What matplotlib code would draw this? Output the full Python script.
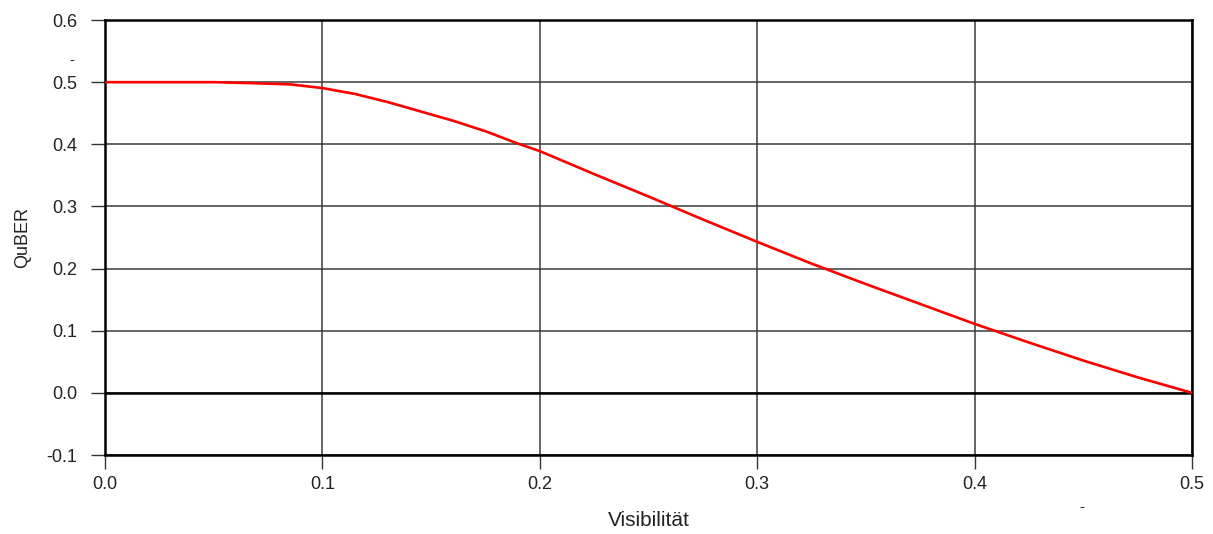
import matplotlib.pyplot as plt

plt.rcParams['font.family'] = ['Liberation Sans', 'DejaVu Sans']

# QuBER over visibility
visibility = [0.0, 0.025, 0.05, 0.0667, 0.085, 0.1, 0.115, 0.13, 0.145, 0.16,
              0.175, 0.19, 0.2, 0.225, 0.25, 0.275, 0.3, 0.325, 0.35, 0.375,
              0.4, 0.425, 0.45, 0.475, 0.5]
quber = [0.500, 0.500, 0.500, 0.4985, 0.4965, 0.4905, 0.481, 0.468, 0.453, 0.438,
         0.421, 0.401, 0.389, 0.352, 0.316, 0.279, 0.243, 0.208, 0.175, 0.143,
         0.111, 0.081, 0.052, 0.025, 0.0]

x_ticks = [0.0, 0.1, 0.2, 0.3, 0.4, 0.5]
y_ticks = [-0.1, 0.0, 0.1, 0.2, 0.3, 0.4, 0.5, 0.6]

fig = plt.figure(figsize=(12.13, 5.34), dpi=100)
ax = fig.add_axes([0.0866, 0.1479, 0.8961, 0.8146])

ax.set_xlim(0, 0.5)
ax.set_ylim(-0.1, 0.6)
ax.set_xticks(x_ticks)
ax.set_yticks(y_ticks)
ax.set_xticklabels([f"{v:.1f}" for v in x_ticks])
ax.set_yticklabels([f"{v:.1f}" for v in y_ticks])

ax.grid(True, color='#3a3a3a', linewidth=1.1)
ax.set_axisbelow(True)
ax.axhline(0, color='black', linewidth=1.8, zorder=2)

ax.plot(visibility, quber, color='#ff0000', linewidth=1.9, zorder=3,
        solid_capstyle='butt')

for side in ax.spines.values():
    side.set_linewidth(1.8)
    side.set_color('black')

ax.tick_params(axis='both', direction='out', length=10, width=1.0,
               color='#333333', labelsize=13, labelcolor='#222222')
ax.tick_params(axis='y', pad=10)
ax.tick_params(axis='x', pad=5)

ax.set_xlabel("Visibilität", fontsize=15, color='#222222')
ax.set_ylabel("QuBER", fontsize=13, color='#222222')
ax.xaxis.set_label_coords(0.5, -0.129)
ax.yaxis.set_label_coords(-0.068, 0.5)

# small stray dash marks
fig.text(72 / 1213, 1 - 60 / 534, "-", fontsize=11, color='#222222',
         ha='center', va='center')
fig.text(1082 / 1213, 1 - 507 / 534, "-", fontsize=11, color='#222222',
         ha='center', va='center')

fig.savefig("out.png", dpi=100, facecolor='white')
